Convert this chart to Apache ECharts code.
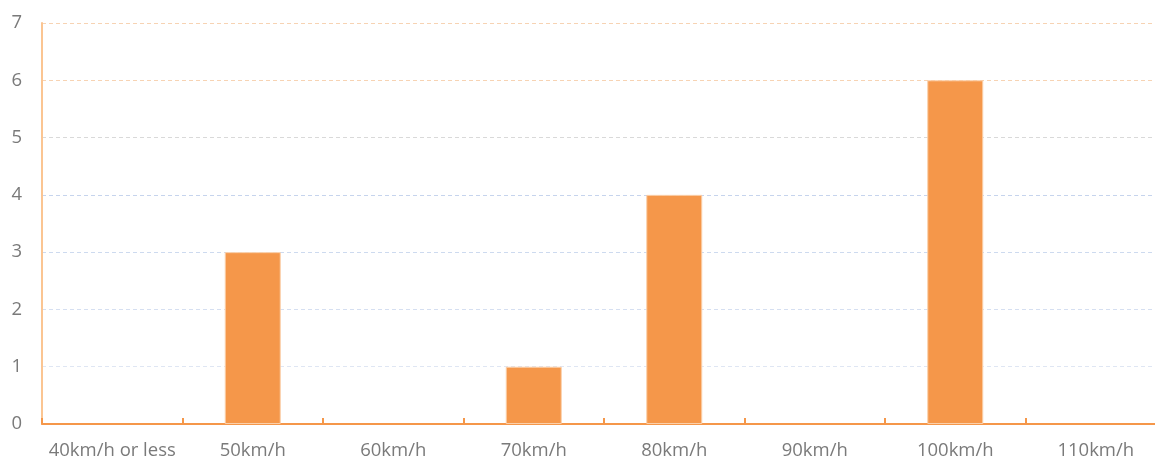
<!DOCTYPE html>
<html><head><meta charset="utf-8">
<script src="https://cdn.jsdelivr.net/npm/echarts@6/dist/echarts.min.js"></script>
<style>html,body{margin:0;padding:0;background:#fff;overflow:hidden}#c{width:1166px;height:460px}</style>
</head><body><div id="c"></div>
<script>
const categories = ['40km/h or less','50km/h','60km/h','70km/h','80km/h','90km/h','100km/h','110km/h'];
const values = [0,3,0,1,4,0,6,0];
const yTicks = [0,1,2,3,4,5,6,7];

const chart = echarts.init(document.getElementById('c'));
chart.setOption({
  animation:false,
  grid:{left:42,right:0,top:23,bottom:36,containLabel:false},
  xAxis:{type:'category',data:categories,
    axisLine:{lineStyle:{color:'#f5974a',width:2}},
    axisTick:{show:true,interval:0,inside:true,length:6,lineStyle:{color:'#f5974a',width:2}},
    axisLabel:{interval:0,color:'#7a7a7a',fontFamily:'Open Sans',fontSize:18.5,margin:17}},
  yAxis:{type:'value',min:0,max:7,interval:1,
    axisLine:{show:true,lineStyle:{color:'#fbc592',width:2}},
    axisTick:{show:false},
    axisLabel:{color:'#7a7a7a',fontFamily:'Open Sans',fontSize:18.5,margin:20,
      formatter:v=>yTicks.includes(v)?String(v):''},
    splitLine:{lineStyle:{type:[4,3],width:1,
      color:['#e4eaf5','#dfe6f3','#d5dff1','#cddaef','#c6d4ed','#d9d9d9','#f7d3b3','#f7d3b3']}}},
  series:[{type:'bar',barWidth:56,
    data:values.map(v=>v===0?{value:v,itemStyle:{borderWidth:0}}:v),
    itemStyle:{color:'#f5974a',borderColor:'#fbd0aa',borderWidth:1}}]
});
</script></body></html>
